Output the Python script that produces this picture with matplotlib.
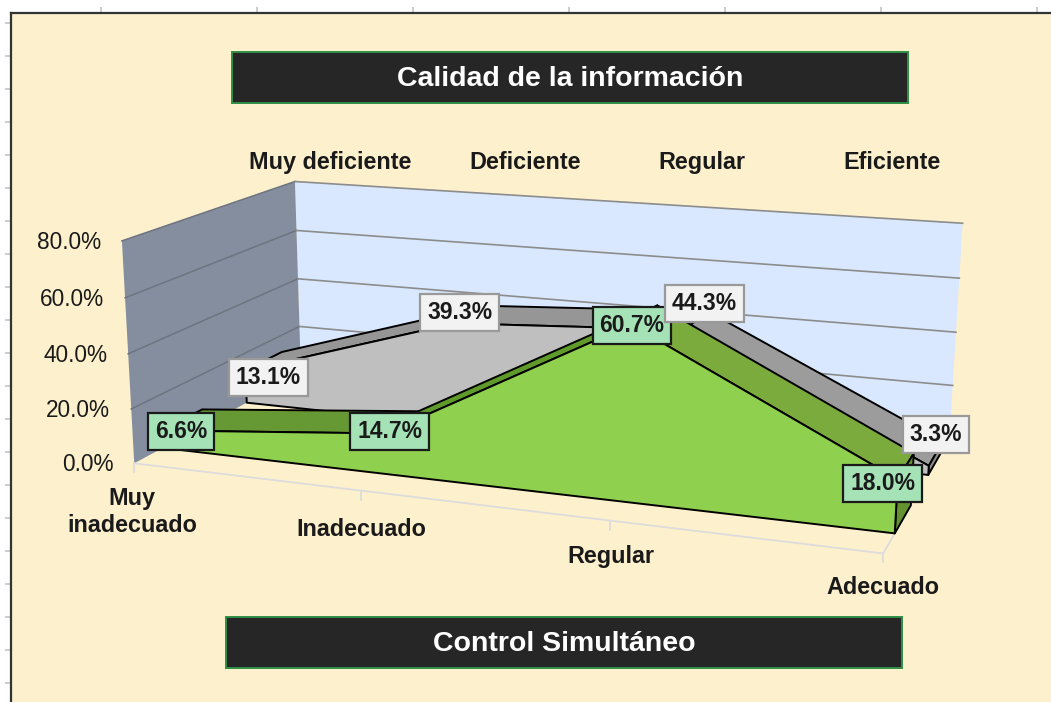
"""Calidad de la informacion: 3D area chart drawn with a fitted projection."""
import numpy as np
import matplotlib
matplotlib.use("Agg")
import matplotlib.pyplot as plt
from matplotlib.patches import Polygon, Rectangle

plt.rcParams["font.family"] = ["Liberation Sans", "DejaVu Sans"]

categories = ["Muy\ninadecuado", "Inadecuado", "Regular", "Adecuado"]
top_labels = ["Muy deficiente", "Deficiente", "Regular", "Eficiente"]
gray_values = [13.1, 39.3, 44.3, 3.3]
green_values = [6.6, 14.7, 60.7, 18.0]
value_ticks = [0, 20, 40, 60, 80]

W, H = 1051, 702
BG = "#FDF0CD"

# camera fit: (category, depth, value) -> pixel, from the corners of the box
corners = [
    (0, 0, 0, 135, 463), (0, 0, 80, 121, 240),
    (3, 0, 0, 883, 553), (3, 0, 80, 897, 302),
    (0, 1, 0, 300, 374), (0, 1, 80, 296, 182),
    (3, 1, 0, 950, 438), (3, 1, 80, 962, 222),
]
A, b = [], []
for u, d, v, px, py in corners:
    A.append([u, d, v, 1, 0, 0, 0, 0, -u * px, -d * px, -v * px])
    A.append([0, 0, 0, 0, u, d, v, 1, -u * py, -d * py, -v * py])
    b += [px, py]
cam = np.linalg.lstsq(np.array(A, float), np.array(b, float), rcond=None)[0]
cam = np.append(cam, 1.0).reshape(3, 4)


def proj(u, d, v):
    x, y, z = cam @ np.array([u, d, v, 1.0])
    return x / z, y / z


fig = plt.figure(figsize=(W / 100, H / 100), dpi=100, facecolor="white")
ax = fig.add_axes([11 / W, 0, 1 - 11 / W, 1 - 13 / H])
ax.set_xlim(11, W)
ax.set_ylim(H, 13)
ax.set_facecolor(BG)
for side in ["right", "bottom"]:
    ax.spines[side].set_visible(False)
for side in ["top", "left"]:
    ax.spines[side].set_color("#333333")
    ax.spines[side].set_linewidth(1.6)
ax.set_xticks(np.arange(101, W, 156))
ax.set_yticks(np.arange(23, H, 33))
ax.tick_params(color="#c4c4c4", length=4, width=1.2, labelbottom=False, labelleft=False,
               top=True, bottom=False)


def face(pts, color, edge="black", lw=1.4, z=2):
    ax.add_patch(Polygon(pts, closed=True, facecolor=color, edgecolor=edge, linewidth=lw, zorder=z, joinstyle="round"))


# walls
face([proj(0, 1, 0), proj(3, 1, 0), proj(3, 1, 80), proj(0, 1, 80)], "#D9E8FE", edge="none", z=1)
face([proj(0, 0, 0), proj(0, 1, 0), proj(0, 1, 80), proj(0, 0, 80)], "#858E9E", edge="none", z=1)
for v in value_ticks[1:]:
    x, y = zip(proj(0, 0, v), proj(0, 1, v), proj(3, 1, v))
    ax.plot(x[:2], y[:2], color="#6d7480", lw=1.1, zorder=1.5)
    ax.plot(x[1:], y[1:], color="#8c8c8c", lw=1.2, zorder=1.5)

# floor edge and ticks
x, y = zip(proj(0, 0, 0), proj(3, 0, 0), proj(3, 0.2, 0))
ax.plot(x, y, color="#dcdcdc", lw=1.3, zorder=1.5)
for i in range(4):
    x0, y0 = proj(i, 0, 0)
    ax.plot([x0, x0], [y0, y0 + 9], color="#dcdcdc", lw=1.3, zorder=1.5)


def slab(values, d0, d1, front, tops, side, z):
    n = len(values)
    for i in range(n - 1):
        face([proj(i, d0, values[i]), proj(i + 1, d0, values[i + 1]),
              proj(i + 1, d1, values[i + 1]), proj(i, d1, values[i])], tops[i], z=z)
    face([proj(n - 1, d0, 0), proj(n - 1, d1, 0), proj(n - 1, d1, values[-1]), proj(n - 1, d0, values[-1])], side, z=z)
    pts = [proj(0, d0, 0)] + [proj(i, d0, values[i]) for i in range(n)] + [proj(n - 1, d0, 0)]
    face(pts, front, z=z + 0.1)


slab(gray_values, 0.64, 0.875, "#BFBFBF", ["#969696", "#969696", "#9C9C9C"], "#8C8C8C", 2)
slab(green_values, 0.15, 0.375, "#8FD14F", ["#669933", "#5F9A2B", "#7BAB3C"], "#63922F", 3)

# value axis labels
for v in value_ticks:
    x0, y0 = proj(0, 0, v)
    ax.text(x0 - 21, y0 + 1.5, f"{v:.1f}%", ha="right", va="center", fontsize=16.3, color="#1a1a1a", zorder=5)

# category labels
cat_off = [(-2, 49), (0, 39), (1, 36), (0, 34)]
for i, name in enumerate(categories):
    x0, y0 = proj(i, 0, 0)
    ax.text(x0 + cat_off[i][0], y0 + cat_off[i][1], name, ha="center", va="center", fontsize=16.8,
            fontweight="bold", color="#1a1a1a", zorder=5, linespacing=1.2)

for name, x0 in zip(top_labels, [330, 525, 702, 892]):
    ax.text(x0, 169, name, ha="center", va="baseline", fontsize=16.8, fontweight="bold", color="#1a1a1a", zorder=5)


def value_labels(values, d, offs, fc, ec, z):
    for i, val in enumerate(values):
        x0, y0 = proj(i, d, val)
        ax.text(x0 + offs[i][0], y0 + offs[i][1], f"{val:.1f}%", ha="center", va="center", fontsize=16.5,
                fontweight="bold", color="#1a1a1a", zorder=z,
                bbox=dict(boxstyle="square,pad=0.3", fc=fc, ec=ec, lw=1.6))


value_labels(green_values, 0.15, [(19, 1), (5, -2), (1, 1), (-15, 4)], "#A5E3B7", "#1a1a1a", 8)
value_labels(gray_values, 0.64, [(23, 7), (5, -11), (20, -26), (7, -31)], "#F2F2F2", "#999999", 9)

# banners
for x0, y0, label in [(232, 52, "Calidad de la información"), (226, 617, "Control Simultáneo")]:
    ax.add_patch(Rectangle((x0, y0), 676, 51, facecolor="#262626", edgecolor="#2F8F46", linewidth=1.4, zorder=6))
    ax.text(x0 + 338, y0 + 27, label, ha="center", va="center", color="white", fontsize=20.5,
            fontweight="bold", zorder=7)

fig.savefig("out.png", dpi=100)
